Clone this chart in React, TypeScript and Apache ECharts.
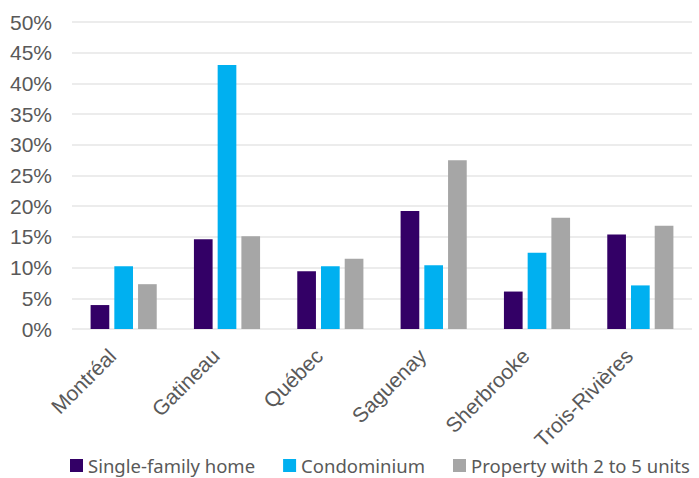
import React, { useEffect, useRef } from "react";
import * as echarts from "echarts";

const categories = ["Montréal", "Gatineau", "Québec", "Saguenay", "Sherbrooke", "Trois-Rivières"];
const singleFamily = [3.9, 14.6, 9.4, 19.2, 6.1, 15.4];
const condominium = [10.2, 43.0, 10.2, 10.4, 12.4, 7.1];
const property2to5 = [7.3, 15.1, 11.45, 27.5, 18.1, 16.8];
const seriesNames = ["Single-family home", "Condominium", "Property with 2 to 5 units"];
const colors = ["#330066", "#00B0F0", "#A6A6A6"];

export default function App() {
  const ref = useRef<HTMLDivElement>(null);
  useEffect(() => {
    document.body.style.margin = "0";
    document.body.style.overflow = "hidden";
    if (!ref.current) return;
    const chart = echarts.init(ref.current, undefined, { renderer: "svg" });
    const data = [singleFamily, condominium, property2to5];
    chart.setOption({
      animation: false,
      backgroundColor: "#ffffff",
      grid: { left: 72, right: 7, top: 22, bottom: 149, containLabel: false },
      legend: {
        bottom: 3,
        left: 70,
        width: 629,
        padding: 0,
        itemWidth: 13,
        itemHeight: 13,
        itemGap: 28,
        icon: "rect",
        textStyle: { fontFamily: "Noto Sans", fontSize: 18.5, color: "#595959" },
        data: seriesNames,
      },
      xAxis: {
        type: "category",
        data: categories,
        axisLine: { show: false },
        axisTick: { show: false },
        axisLabel: {
          rotate: 45,
          interval: 0,
          margin: 12,
          padding: [0, 16, 16, 0],
          fontFamily: "Arial",
          fontSize: 21,
          color: "#595959",
        },
      },
      yAxis: {
        type: "value",
        min: 0,
        max: 50,
        interval: 5,
        axisLine: { show: false },
        axisTick: { show: false },
        splitLine: { lineStyle: { color: "#E6E6E6", width: 1.5 } },
        axisLabel: {
          formatter: "{value}%",
          margin: 20,
          fontFamily: "Arial",
          fontSize: 21,
          color: "#595959",
        },
      },
      series: seriesNames.map((name, i) => ({
        name,
        type: "bar",
        data: data[i],
        barGap: "27%",
        barCategoryGap: "36%",
        itemStyle: { color: colors[i] },
      })),
    });
    return () => chart.dispose();
  }, []);
  return <div ref={ref} style={{ position: "absolute", left: 0, top: 0, width: 699, height: 478 }} />;
}
